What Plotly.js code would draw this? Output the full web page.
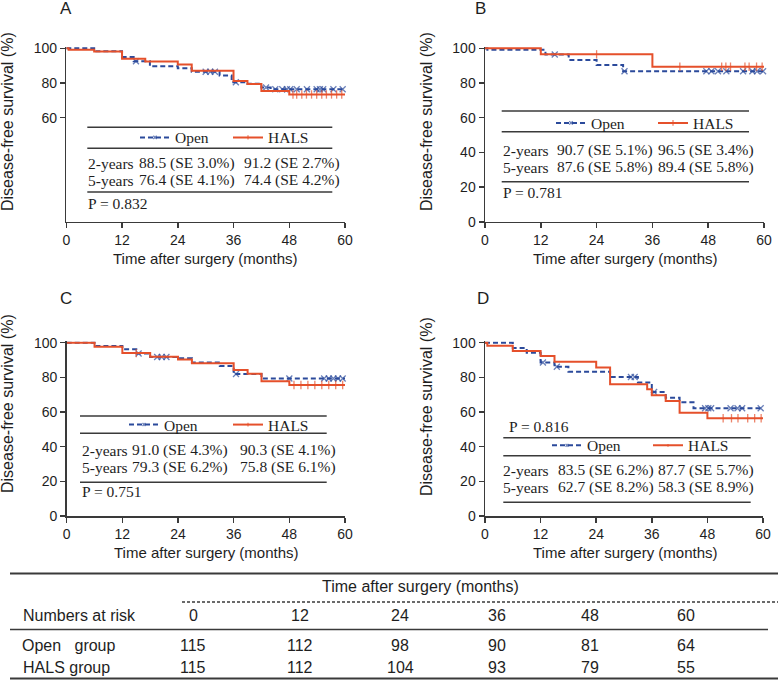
<!DOCTYPE html>
<html>
<head>
<meta charset="utf-8">
<script src="https://cdn.plot.ly/plotly-3.0.1.min.js"></script>
<style>
  html, body { margin: 0; padding: 0; background: #fff; }
  #chart { width: 778px; height: 682px; }
</style>
</head>
<body>
<div id="chart"></div>
<script>
// Kaplan-Meier steps: event times (months) and survival (%)
var openA_t = [0, 6, 12, 14.5, 18, 24, 27, 33, 35.6, 39, 42, 44];
var openA_s = [100, 98.3, 95.0, 92.5, 89.6, 88.5, 86.5, 84.3, 80.4, 79.5, 77.4, 76.4];
var openA_c = [15, 30, 31, 32, 36.5, 43, 45, 46.5, 47.5, 48.2, 49.6, 51.8, 53.9, 54.6, 55.3, 57.5, 59.5];
var halsA_t = [0, 0.5, 6, 12, 17, 24, 27, 36, 39, 42, 48];
var halsA_s = [100, 99.1, 98.2, 94.0, 92.4, 90.6, 87.0, 81.2, 79.4, 75.4, 73.4];
var halsA_c = [48.8, 49.6, 50.7, 51.7, 52.8, 53.9, 55, 56, 57.1, 58.2, 59.3];

var openB_t = [0, 0.5, 13, 18, 24, 29.7];
var openB_s = [100, 99.1, 96.4, 93.3, 90.4, 86.8];
var openB_c = [15, 30, 47.6, 48.7, 50.1, 51.9, 55.5, 57.5, 58.5, 59.8];
var halsB_t = [0, 12, 36];
var halsB_s = [100, 96.5, 89.4];
var halsB_c = [24, 41.9, 50.9, 51.8, 52.8, 55.9, 56.8, 58.4, 59.6];

var openC_t = [0, 6, 12, 15, 18, 24, 27, 33, 36, 42];
var openC_s = [100, 98.1, 96.2, 93.8, 91.7, 91.0, 88.5, 86.6, 81.9, 79.3];
var openC_c = [15.5, 19.5, 20.5, 21.5, 36.5, 48, 55.5, 56.5, 57.5, 58.5, 59.5];
var halsC_t = [0, 6, 12, 18, 24, 27, 36, 39, 42, 48];
var halsC_s = [100, 97.7, 94.0, 91.9, 90.3, 88.1, 84.2, 82.1, 77.8, 75.6];
var halsC_c = [15, 49, 50.5, 52, 53.5, 55, 56.5, 58, 59.5];

var openD_t = [0, 6, 9, 12, 15, 18, 27, 33, 36, 39, 42, 45];
var openD_s = [100, 96.9, 94.2, 88.6, 86.1, 83.3, 80.2, 77.1, 71.5, 68.3, 65.6, 62.2];
var openD_c = [12.5, 15.5, 31.5, 32.3, 36.5, 47.5, 48.2, 48.8, 53, 54.5, 55.5, 59.5];
var halsD_t = [0, 0.5, 6, 12, 15, 24, 27, 35, 36, 39, 42, 48];
var halsD_s = [100, 98.3, 95.2, 92.3, 89.0, 85.7, 76.0, 73.2, 69.6, 66.3, 59.6, 56.4];
var halsD_c = [51.4, 53.2, 54.6, 56.7, 58.2, 59.6];

var followUpEnd = 60;

// survival estimates shown in the inset tables
var panelLetters = ['A', 'B', 'C', 'D'];
var open2y = [88.5, 90.7, 91.0, 83.5];
var open2ySE = [3.0, 5.1, 4.3, 6.2];
var hals2y = [91.2, 96.5, 90.3, 87.7];
var hals2ySE = [2.7, 3.4, 4.1, 5.7];
var open5y = [76.4, 87.6, 79.3, 62.7];
var open5ySE = [4.1, 5.8, 6.2, 8.2];
var hals5y = [74.4, 89.4, 75.8, 58.3];
var hals5ySE = [4.2, 5.8, 6.1, 8.9];
var pValues = ['0.832', '0.781', '0.751', '0.816'];

// numbers at risk
var riskMonths = [0, 12, 24, 36, 48, 60];
var openAtRisk = [115, 112, 98, 90, 81, 64];
var halsAtRisk = [115, 112, 104, 93, 79, 55];

var W = 778, H = 682;
var BLUE = '#2b4a9b', RED = '#e5502b', INK = '#1e1e1e', RULE = '#3a3a3a';
var SANS = 'Liberation Sans, Arial, sans-serif';
var SERIF = 'Liberation Serif, Times New Roman, serif';

function px(x) { return x / W; }
function py(y) { return 1 - y / H; }

// merge steps + censor ticks into one hv line, censor points get a marker
function kmTrace(t, s, c, name, color, ax, leg) {
  var pts = [];
  for (var i = 0; i < t.length; i++) pts.push({ t: t[i], s: s[i], c: 0 });
  c.forEach(function (ct) {
    var lvl = s[0];
    for (var j = 0; j < t.length; j++) if (t[j] <= ct) lvl = s[j];
    pts.push({ t: ct, s: lvl, c: 1 });
  });
  pts.push({ t: followUpEnd, s: s[s.length - 1], c: 0 });
  pts.sort(function (a, b) { return a.t - b.t || a.c - b.c; });
  var isOpen = name == 'Open';
  return {
    x: pts.map(function (p) { return p.t; }),
    y: pts.map(function (p) { return p.s; }),
    xaxis: 'x' + ax, yaxis: 'y' + ax,
    name: name, legend: leg,
    mode: 'lines+markers',
    cliponaxis: false,
    line: { shape: 'hv', color: color, width: 2, dash: isOpen ? '5px,3px' : 'solid' },
    marker: {
      symbol: isOpen ? 'x-thin-open' : 'line-ns-open',
      size: pts.map(function (p) { return p.c ? 6 : 0; }),
      color: color,
      line: { width: 1.3, color: color }
    },
    hoverinfo: 'skip'
  };
}

var axSuffix = ['', '2', '3', '4'];
var legIds = ['legend', 'legend2', 'legend3', 'legend4'];

var data = [
  kmTrace(openA_t, openA_s, openA_c, 'Open', BLUE, '', 'legend'),
  kmTrace(halsA_t, halsA_s, halsA_c, 'HALS', RED, '', 'legend'),
  kmTrace(openB_t, openB_s, openB_c, 'Open', BLUE, '2', 'legend2'),
  kmTrace(halsB_t, halsB_s, halsB_c, 'HALS', RED, '2', 'legend2'),
  kmTrace(openC_t, openC_s, openC_c, 'Open', BLUE, '3', 'legend3'),
  kmTrace(halsC_t, halsC_s, halsC_c, 'HALS', RED, '3', 'legend3'),
  kmTrace(openD_t, openD_s, openD_c, 'Open', BLUE, '4', 'legend4'),
  kmTrace(halsD_t, halsD_s, halsD_c, 'HALS', RED, '4', 'legend4')
];

// pixel boxes of each panel and its inset table
var boxes = [
  { x0: 66.3, x1: 345, y0: 221.8, y1: 46.9, yticks: [60, 80, 100], letter: [66, 9],
    ytitle: [7, 122], xtitle: [205, 258],
    rules: [127.2, 148.3, 192], rx: [87.3, 332.3], legY: 137.8, legX: 135, legE: 48,
    cols: [86.5, 137.5, 242.5], rowY: [163.3, 180], pXY: [86.5, 203.3] },
  { x0: 485, x1: 764, y0: 221.8, y1: 46.9, yticks: [0, 20, 40, 60, 80, 100], letter: [480, 9],
    ytitle: [426, 122], xtitle: [625, 258],
    rules: [111, 131.7, 181.7], rx: [501.7, 749], legY: 123.3, legX: 551, legE: 57,
    cols: [501.5, 556, 657], rowY: [150.4, 167.2], pXY: [501.5, 192.7] },
  { x0: 66.7, x1: 345, y0: 516, y1: 341.3, yticks: [0, 20, 40, 60, 80, 100], letter: [66, 298],
    ytitle: [7, 404], xtitle: [206, 552],
    rules: [416, 433.3, 482.3], rx: [80, 326.7], legY: 425, legX: 124, legE: 59,
    cols: [80.5, 130.5, 239], rowY: [450.4, 467.2], pXY: [80.5, 491.7] },
  { x0: 485, x1: 763, y0: 516, y1: 341.3, yticks: [0, 20, 40, 60, 80, 100], letter: [483, 298],
    ytitle: [426, 407], xtitle: [625, 552],
    rules: [437.7, 455.7, 502.3], rx: [503.3, 750.7], legY: 445.7, legX: 547, legE: 56,
    cols: [502, 556.5, 656.5], rowY: [470.4, 487.2], pXY: [507.5, 426.7] }
];

var layout = {
  width: W, height: H,
  margin: { l: 0, r: 0, t: 0, b: 0 },
  paper_bgcolor: '#fff', plot_bgcolor: 'rgba(0,0,0,0)',
  showlegend: true,
  font: { family: SANS, color: INK },
  shapes: [], annotations: []
};

function note(text, x, y, opts) {
  var a = { text: text, x: px(x), y: py(y), xref: 'paper', yref: 'paper',
    showarrow: false, xanchor: 'left', yanchor: 'middle', borderpad: 0,
    font: { family: SERIF, size: 15.5, color: INK } };
  for (var k in opts) a[k] = opts[k];
  layout.annotations.push(a);
}
function rule(x0, x1, y, w, dash) {
  layout.shapes.push({ type: 'line', xref: 'paper', yref: 'paper',
    x0: px(x0), x1: px(x1), y0: py(y), y1: py(y),
    line: { color: RULE, width: w || 1.5, dash: dash || 'solid' } });
}
function fmt(v, se) { return v.toFixed(1) + ' (SE ' + se.toFixed(1) + '%)'; }

boxes.forEach(function (b, i) {
  var s = axSuffix[i];
  var axStyle = { showline: true, linecolor: RULE, linewidth: 1.5, ticks: 'outside',
    ticklen: 5, tickwidth: 1.5, tickcolor: RULE, showgrid: false, zeroline: false,
    tickfont: { family: SANS, size: 14, color: INK }, fixedrange: true };
  layout['xaxis' + s] = Object.assign({}, axStyle, {
    domain: [px(b.x0), px(b.x1)], range: [0, 60], tickvals: riskMonths,
    anchor: 'y' + s });
  layout['yaxis' + s] = Object.assign({}, axStyle, {
    domain: [py(b.y0), py(b.y1)], range: [0, 100.8], tickvals: b.yticks,
    anchor: 'x' + s });

  layout[legIds[i]] = {
    orientation: 'h', x: px(b.legX), y: py(b.legY), xanchor: 'left', yanchor: 'middle',
    bgcolor: 'rgba(0,0,0,0)', borderwidth: 0, entrywidth: b.legE,
    font: { family: SERIF, size: 15.5, color: INK }
  };

  b.rules.forEach(function (y) { rule(b.rx[0], b.rx[1], y); });

  note('2-years', b.cols[0], b.rowY[0]);
  note(fmt(open2y[i], open2ySE[i]), b.cols[1], b.rowY[0]);
  note(fmt(hals2y[i], hals2ySE[i]), b.cols[2], b.rowY[0]);
  note('5-years', b.cols[0], b.rowY[1]);
  note(fmt(open5y[i], open5ySE[i]), b.cols[1], b.rowY[1]);
  note(fmt(hals5y[i], hals5ySE[i]), b.cols[2], b.rowY[1]);
  note('P = ' + pValues[i], b.pXY[0], b.pXY[1]);

  note(panelLetters[i], b.letter[0], b.letter[1],
    { xanchor: 'center', font: { family: SANS, size: 17, color: INK } });
  note('Disease-free survival (%)', b.ytitle[0], b.ytitle[1],
    { xanchor: 'center', textangle: -90, font: { family: SANS, size: 16, color: INK } });
  note('Time after surgery (months)', b.xtitle[0], b.xtitle[1],
    { xanchor: 'center', font: { family: SANS, size: 15, color: INK } });
});

// numbers-at-risk table
var colX = [193, 300, 400, 497, 590, 686];
var tFont = { family: SANS, size: 16, color: INK };
rule(10, 778, 573.5, 2);
note('Time after surgery (months)', 420, 586, { xanchor: 'center', font: tFont });
rule(182, 778, 602, 1.3, '3px,2px');
note('Numbers at risk', 22, 615, { font: tFont });
rule(10, 768, 629.5, 1.5);
note('Open\u00a0\u00a0\u00a0group', 21, 645, { font: tFont });
note('HALS group', 22, 667, { font: tFont });
rule(10, 778, 678.5, 2);
riskMonths.forEach(function (m, j) {
  note(String(m), colX[j], 615, { xanchor: 'center', font: tFont });
  note(String(openAtRisk[j]), colX[j], 645, { xanchor: 'center', font: tFont });
  note(String(halsAtRisk[j]), colX[j], 667, { xanchor: 'center', font: tFont });
});

Plotly.newPlot('chart', data, layout, { displayModeBar: false, staticPlot: true });
</script>
</body>
</html>
